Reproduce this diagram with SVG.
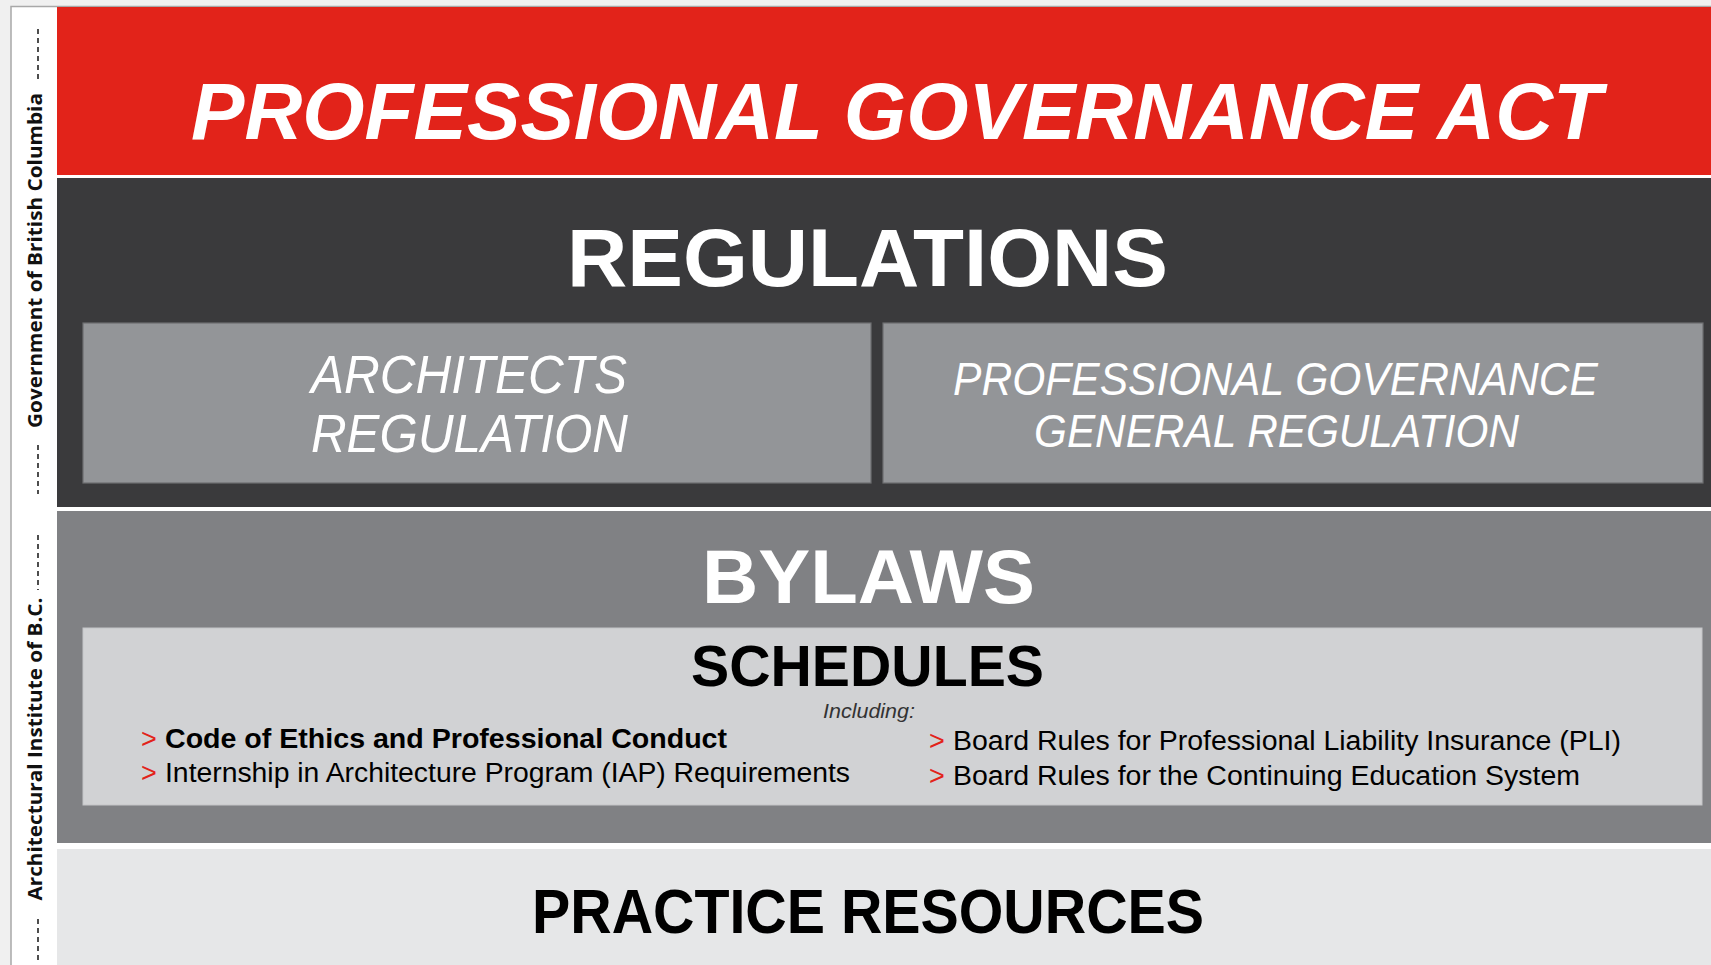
<svg xmlns="http://www.w3.org/2000/svg" width="1711" height="965" viewBox="0 0 1711 965">
<style>
.sans{font-family:"Liberation Sans",Arial,sans-serif}
.w{fill:#ffffff}
.k{fill:#000000}
.r{fill:#e2231a}
.b{font-weight:bold}
.i{font-style:italic}
.side{font-family:"Open Sans","DejaVu Sans",sans-serif;font-weight:700;font-size:19px;fill:#111111}
.dash{stroke:#222222;stroke-width:1.6;stroke-dasharray:5 4;fill:none}
.sub{fill:#939598;stroke:#6d6e71;stroke-width:1.2}
</style>
<rect x="0" y="0" width="1711" height="965" fill="#f0f0f0"/>
<rect x="11" y="6.5" width="1720" height="980" fill="#ffffff" stroke="#a8a8a8" stroke-width="1.5"/>

<g id="side-labels">
  <line class="dash" x1="38" y1="29" x2="38" y2="80"/>
  <text class="side" transform="translate(42,260.5) rotate(-90)" text-anchor="middle" textLength="335" lengthAdjust="spacingAndGlyphs">Government of British Columbia</text>
  <line class="dash" x1="38" y1="445" x2="38" y2="494"/>
  <line class="dash" x1="38" y1="535" x2="38" y2="590"/>
  <text class="side" transform="translate(42,749) rotate(-90)" text-anchor="middle" textLength="303" lengthAdjust="spacingAndGlyphs">Architectural Institute of B.C.</text>
  <line class="dash" x1="38" y1="919" x2="38" y2="963"/>
</g>

<g id="act">
  <rect x="57" y="7" width="1654" height="168" fill="#e2231a"/>
  <text class="sans w b i" x="191" y="139" font-size="80" textLength="1411" lengthAdjust="spacingAndGlyphs">PROFESSIONAL GOVERNANCE ACT</text>
</g>

<g id="regulations">
  <rect x="57" y="178" width="1654" height="329" fill="#3a3a3c"/>
  <text class="sans w b" x="567" y="286" font-size="82" textLength="601" lengthAdjust="spacingAndGlyphs">REGULATIONS</text>
</g>

<g id="architects-regulation">
  <rect class="sub" x="83" y="323" width="788" height="160"/>
  <text class="sans w i" x="311" y="393" font-size="53" textLength="316" lengthAdjust="spacingAndGlyphs">ARCHITECTS</text>
  <text class="sans w i" x="311" y="452" font-size="53" textLength="317" lengthAdjust="spacingAndGlyphs">REGULATION</text>
</g>

<g id="pg-general-regulation">
  <rect class="sub" x="883" y="323" width="820" height="160"/>
  <text class="sans w i" x="953" y="395" font-size="47" textLength="645" lengthAdjust="spacingAndGlyphs">PROFESSIONAL GOVERNANCE</text>
  <text class="sans w i" x="1034" y="447" font-size="47" textLength="485" lengthAdjust="spacingAndGlyphs">GENERAL REGULATION</text>
</g>

<g id="bylaws">
  <rect x="57" y="511" width="1654" height="332" fill="#808184"/>
  <text class="sans w b" x="702" y="603" font-size="76" textLength="333" lengthAdjust="spacingAndGlyphs">BYLAWS</text>
</g>

<g id="schedules">
  <rect x="83" y="628" width="1619" height="177" fill="#d1d2d4" stroke="#c4c5c7" stroke-width="1"/>
  <text class="sans k b" x="691" y="686" font-size="57" textLength="353" lengthAdjust="spacingAndGlyphs">SCHEDULES</text>
  <text class="sans i" x="823" y="718" font-size="21" fill="#333333" textLength="92" lengthAdjust="spacingAndGlyphs">Including:</text>
  <text class="sans r" x="141" y="748" font-size="27">&gt;</text>
  <text class="sans k b" x="165" y="748" font-size="27" textLength="562" lengthAdjust="spacingAndGlyphs">Code of Ethics and Professional Conduct</text>
  <text class="sans r" x="141" y="782" font-size="27">&gt;</text>
  <text class="sans k" x="165" y="782" font-size="27" textLength="685" lengthAdjust="spacingAndGlyphs">Internship in Architecture Program (IAP) Requirements</text>
  <text class="sans r" x="929" y="750" font-size="27">&gt;</text>
  <text class="sans k" x="953" y="750" font-size="27" textLength="668" lengthAdjust="spacingAndGlyphs">Board Rules for Professional Liability Insurance (PLI)</text>
  <text class="sans r" x="929" y="785" font-size="27">&gt;</text>
  <text class="sans k" x="953" y="785" font-size="27" textLength="627" lengthAdjust="spacingAndGlyphs">Board Rules for the Continuing Education System</text>
</g>

<g id="practice-resources">
  <rect x="57" y="849" width="1654" height="116" fill="#e6e7e8"/>
  <text class="sans k b" x="532" y="933" font-size="63" textLength="672" lengthAdjust="spacingAndGlyphs">PRACTICE RESOURCES</text>
</g>

<g id="connectors"></g>
</svg>
